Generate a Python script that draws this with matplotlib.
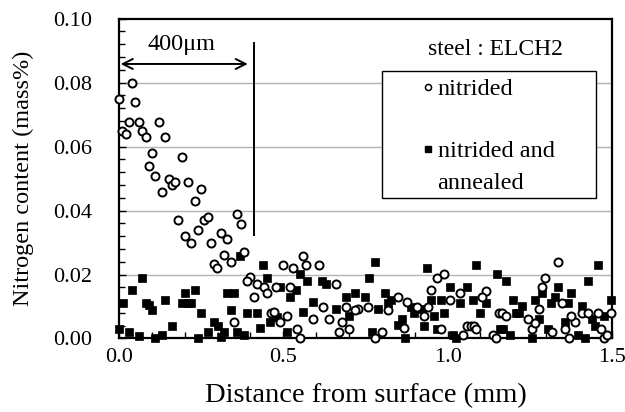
import matplotlib
matplotlib.use('Agg')
import matplotlib.pyplot as plt
import matplotlib.patches as mpatches
from matplotlib.ticker import MultipleLocator, FormatStrFormatter
from matplotlib.lines import Line2D

plt.rcParams['font.family'] = ['Liberation Serif', 'DejaVu Serif']

# --- 数据 ---
# nitrided: 距表面 (mm), 氮含量 (mass%)
nit_x = [0.001, 0.040, 0.050, 0.030, 0.061, 0.121, 0.009, 0.020, 0.071, 0.081,
         0.141, 0.100, 0.191, 0.091, 0.110, 0.151, 0.160, 0.171, 0.131, 0.211,
         0.250, 0.230, 0.180, 0.260, 0.270, 0.240, 0.201, 0.220, 0.310, 0.330,
         0.280, 0.359, 0.370, 0.319, 0.379, 0.290, 0.299, 0.340, 0.399, 0.389,
         0.420, 0.440, 0.449, 0.410, 0.477, 0.350, 0.463,
         0.559, 0.500, 0.530, 0.569, 0.609, 0.519, 0.659, 0.471, 0.490, 0.510,
         0.589, 0.620, 0.640, 0.541, 0.551, 0.679, 0.669, 0.700, 0.690, 0.728,
         0.719, 0.758, 0.779, 0.799, 0.819, 0.849, 0.876, 0.908, 0.939, 0.928,
         0.868, 0.949, 0.968, 0.989, 0.979,
         1.337, 1.297, 1.287, 1.117, 1.038, 1.008, 1.106, 1.347, 1.277, 1.157,
         1.167, 1.177, 1.246, 1.256, 1.266, 1.318, 1.357, 1.368, 1.387, 1.377,
         1.408, 1.428, 1.457, 1.498, 1.467, 1.477, 1.486, 1.058, 1.070, 1.079,
         1.088, 1.048, 1.137, 1.147]
nit_y = [0.0748, 0.0797, 0.0738, 0.0678, 0.0678, 0.0678, 0.0650, 0.0639, 0.0648, 0.0629,
         0.0629, 0.0579, 0.0568, 0.0539, 0.0509, 0.0498, 0.0479, 0.0489, 0.0459, 0.0489,
         0.0468, 0.0429, 0.0369, 0.0369, 0.0380, 0.0339, 0.0320, 0.0299, 0.0330, 0.0310,
         0.0299, 0.0390, 0.0359, 0.0260, 0.0270, 0.0232, 0.0219, 0.0239, 0.0191, 0.0181,
         0.0170, 0.0161, 0.0141, 0.0131, 0.0161, 0.0052, 0.0081,
         0.0259, 0.0230, 0.0219, 0.0230, 0.0230, 0.0161, 0.0170, 0.0082, 0.0053, 0.0070,
         0.0061, 0.0099, 0.0061, 0.0031, 0.0001, 0.0052, 0.0021, 0.0031, 0.0099, 0.0091,
         0.0089, 0.0099, 0.0001, 0.0021, 0.0089, 0.0131, 0.0113, 0.0099, 0.0099, 0.0070,
         0.0032, 0.0152, 0.0190, 0.0201, 0.0030,
         0.0239, 0.0190, 0.0161, 0.0149, 0.0141, 0.0120, 0.0131, 0.0111, 0.0091, 0.0081,
         0.0081, 0.0070, 0.0061, 0.0031, 0.0047, 0.0021, 0.0031, 0.0001, 0.0052, 0.0070,
         0.0081, 0.0081, 0.0081, 0.0081, 0.0031, 0.0001, 0.0011, 0.0039, 0.0039, 0.0039,
         0.0031, 0.0011, 0.0011, 0.0001]

# nitrided and annealed
ann_x = [0.000, 0.030, 0.061, 0.110, 0.131, 0.160, 0.239, 0.071, 0.040, 0.011,
         0.081, 0.100, 0.141, 0.191, 0.210, 0.220, 0.201, 0.230, 0.250, 0.330,
         0.350, 0.340, 0.290, 0.270, 0.300, 0.319, 0.360, 0.380, 0.310, 0.369,
         0.439, 0.449, 0.389, 0.419, 0.430, 0.460, 0.480, 0.090,
         0.490, 0.520, 0.551, 0.571, 0.538, 0.618, 0.630, 0.589, 0.559, 0.510,
         0.780, 0.760, 0.690, 0.719, 0.749, 0.659, 0.699, 0.789, 0.809, 0.819,
         0.829, 0.769, 0.869, 0.850, 0.860, 0.889, 0.898, 0.918, 0.938, 0.949,
         0.979, 0.958, 0.928, 0.968, 0.989, 1.007,
         1.088, 1.149, 1.177, 1.457, 1.428, 1.337, 1.377, 1.287, 1.058, 1.037,
         1.078, 1.117, 1.098, 1.198, 1.227, 1.217, 1.207, 1.267, 1.278, 1.316,
         1.326, 1.367, 1.408, 1.357, 1.438, 1.448, 1.476, 1.496, 1.307, 1.159,
         1.169, 1.190, 1.257, 1.397, 1.418, 1.017, 1.027]
ann_y = [0.0031, 0.0020, 0.0008, 0.0001, 0.0011, 0.0040, 0.0000, 0.0190, 0.0151, 0.0111,
         0.0111, 0.0090, 0.0120, 0.0111, 0.0111, 0.0111, 0.0141, 0.0151, 0.0081, 0.0141,
         0.0141, 0.0090, 0.0052, 0.0021, 0.0040, 0.0020, 0.0020, 0.0010, 0.0006, 0.0259,
         0.0230, 0.0190, 0.0081, 0.0081, 0.0032, 0.0052, 0.0068, 0.0105,
         0.0161, 0.0131, 0.0201, 0.0181, 0.0152, 0.0181, 0.0170, 0.0113, 0.0082, 0.0021,
         0.0239, 0.0190, 0.0131, 0.0141, 0.0131, 0.0091, 0.0070, 0.0091, 0.0141, 0.0111,
         0.0120, 0.0021, 0.0001, 0.0042, 0.0061, 0.0099, 0.0081, 0.0091, 0.0219, 0.0120,
         0.0120, 0.0070, 0.0039, 0.0031, 0.0081, 0.0161,
         0.0230, 0.0201, 0.0181, 0.0230, 0.0181, 0.0161, 0.0141, 0.0141, 0.0161, 0.0111,
         0.0120, 0.0111, 0.0081, 0.0120, 0.0101, 0.0081, 0.0081, 0.0120, 0.0061, 0.0111,
         0.0131, 0.0111, 0.0101, 0.0052, 0.0061, 0.0039, 0.0070, 0.0120, 0.0031, 0.0031,
         0.0031, 0.0011, 0.0001, 0.0011, 0.0001, 0.0011, 0.0001]

fig = plt.figure(figsize=(6.25, 4.12), dpi=100)
ax = fig.add_axes([0.1904, 0.1784, 0.7886, 0.7766])

ax.set_xlim(0, 1.5)
ax.set_ylim(0, 0.10)

# 水平网格线
for gy in [0.02, 0.04, 0.06, 0.08]:
    ax.axhline(gy, color='#b4b4b4', lw=1.0, zorder=0)

ax.plot(nit_x, nit_y, 'o', ms=5.8, mfc='white', mec='black', mew=1.4,
        linestyle='none', zorder=3, clip_on=False)
ax.plot(ann_x, ann_y, 's', ms=5.3, mfc='black', mec='black', mew=0.5,
        linestyle='none', zorder=2, clip_on=False)

# 刻度
ax.xaxis.set_major_locator(MultipleLocator(0.5))
ax.xaxis.set_minor_locator(MultipleLocator(0.1))
ax.yaxis.set_major_locator(MultipleLocator(0.02))
ax.yaxis.set_minor_locator(MultipleLocator(0.004))
ax.xaxis.set_major_formatter(FormatStrFormatter('%.1f'))
ax.yaxis.set_major_formatter(FormatStrFormatter('%.2f'))
ax.tick_params(which='both', direction='in', top=False, right=False, labelsize=16)
ax.tick_params(which='major', length=5, width=1.0)
ax.tick_params(which='minor', length=4, width=1.0)
ax.tick_params(axis='y', which='major', pad=19)
ax.tick_params(axis='x', which='major', pad=7)

for sp in ax.spines.values():
    sp.set_linewidth(1.6)

ax.set_xlabel('Distance from surface (mm)', fontsize=20.5)
ax.set_ylabel('Nitrogen content (mass%)', fontsize=17.5)
ax.xaxis.set_label_coords(0.5, -0.14)
ax.yaxis.set_label_coords(-0.172, 0.5)

# --- 400μm 标注 ---
ax.annotate('', xy=(0.392, 0.0858), xytext=(0.005, 0.0858),
            arrowprops=dict(arrowstyle='<->', lw=1.4, color='black',
                            mutation_scale=18, shrinkA=0, shrinkB=0))
ax.plot([0.411, 0.411], [0.0323, 0.0923], color='black', lw=1.4)
ax.text(0.19, 0.0918, '400μm', ha='center', va='center', fontsize=17.5)

ax.text(1.145, 0.0902, 'steel : ELCH2', ha='center', va='center', fontsize=17)

# --- 图例框 ---
box = mpatches.Rectangle((0.533, 0.439), 0.435, 0.397, transform=ax.transAxes,
                         facecolor='white', edgecolor='black', lw=1.0, zorder=4)
ax.add_patch(box)
handles = [Line2D([], [], marker='o', ls='none', ms=4.4, mfc='white', mec='black', mew=1.1),
           Line2D([], [], marker='s', ls='none', ms=4.0, mfc='black', mec='black')]
leg = ax.legend(handles, ['nitrided', 'nitrided and'],
                loc='upper left', bbox_to_anchor=(0.607, 0.829),
                frameon=False, fontsize=17.5, handlelength=0.4, handletextpad=0.2,
                labelspacing=1.65, borderpad=0.2, borderaxespad=0)
leg.set_zorder(5)

# 第二行文字 "annealed" 对齐到图例文字的左边
fig.canvas.draw()
bb = leg.get_texts()[1].get_window_extent()
x0, y0 = ax.transAxes.inverted().transform((bb.x0, bb.y0))
ax.text(x0, y0 - 0.035, 'annealed', transform=ax.transAxes, ha='left', va='top',
        fontsize=17.5, zorder=6)

fig.savefig('out.png', dpi=100)
